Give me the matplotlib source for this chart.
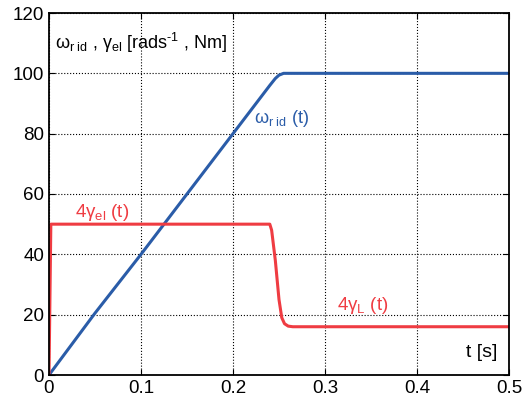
import numpy as np
import matplotlib.pyplot as plt

# speed reference omega_r_id(t)
t_w = [0.0, 0.05, 0.1, 0.15, 0.2, 0.24, 0.246, 0.25, 0.255, 0.26, 0.5]
w = [0.0, 20.5, 40.0, 60.0, 80.0, 96.0, 98.3, 99.4, 100.0, 100.0, 100.0]

# 4 * torque
t_g = [0.0, 0.002, 0.24, 0.242, 0.246, 0.25, 0.253, 0.256, 0.26, 0.265, 0.5]
g = [0.0, 50.0, 50.0, 48.0, 38.0, 25.0, 19.0, 17.0, 16.2, 16.0, 16.0]

xticks = [0, 0.1, 0.2, 0.3, 0.4, 0.5]
yticks = [0, 20, 40, 60, 80, 100, 120]

blue = "#2a5ca8"
red = "#ef3c42"


def main():
    plt.rcParams["font.family"] = ["Liberation Sans", "DejaVu Sans"]
    plt.rcParams["mathtext.fontset"] = "custom"
    plt.rcParams["mathtext.rm"] = "Liberation Sans"
    plt.rcParams["mathtext.it"] = "Liberation Sans"

    fig = plt.figure(figsize=(5.25, 4.03), dpi=100)
    ax = fig.add_axes([49 / 525, 28 / 403, 460 / 525, 362 / 403])

    ax.plot(t_w, w, color=blue, lw=2.2)
    ax.plot(t_g, g, color=red, lw=2.2)

    ax.set_xlim(0, 0.5)
    ax.set_ylim(0, 120)
    ax.set_xticks(xticks)
    ax.set_xticklabels(["0", "0.1", "0.2", "0.3", "0.4", "0.5"])
    ax.set_yticks(yticks)
    ax.tick_params(direction="in", top=True, right=True, labelsize=13.5, length=4)
    ax.grid(True, color="black", linestyle=":", linewidth=0.8)
    for s in ax.spines.values():
        s.set_linewidth(1.3)

    ax.text(0.007, 110, r"$\omega_{\mathrm{r\ id}}$ , $\gamma_{\mathrm{el}}$ [rads$^{\text{-1}}$ , Nm]",
            fontsize=13, va="center", ha="left")
    ax.text(0.223, 85, r"$\omega_{\mathrm{r\ id}}$ (t)", color=blue, fontsize=13, va="center")
    ax.text(0.028, 54, r"4$\gamma_{\mathrm{el}}$ (t)", color=red, fontsize=13.5, va="center")
    ax.text(0.313, 23, r"4$\gamma_{\mathrm{L}}$ (t)", color=red, fontsize=13.5, va="center")
    ax.text(0.453, 7.6, "t [s]", color="black", fontsize=14, va="center")

    fig.savefig("out.png", dpi=100)


if __name__ == "__main__":
    main()
